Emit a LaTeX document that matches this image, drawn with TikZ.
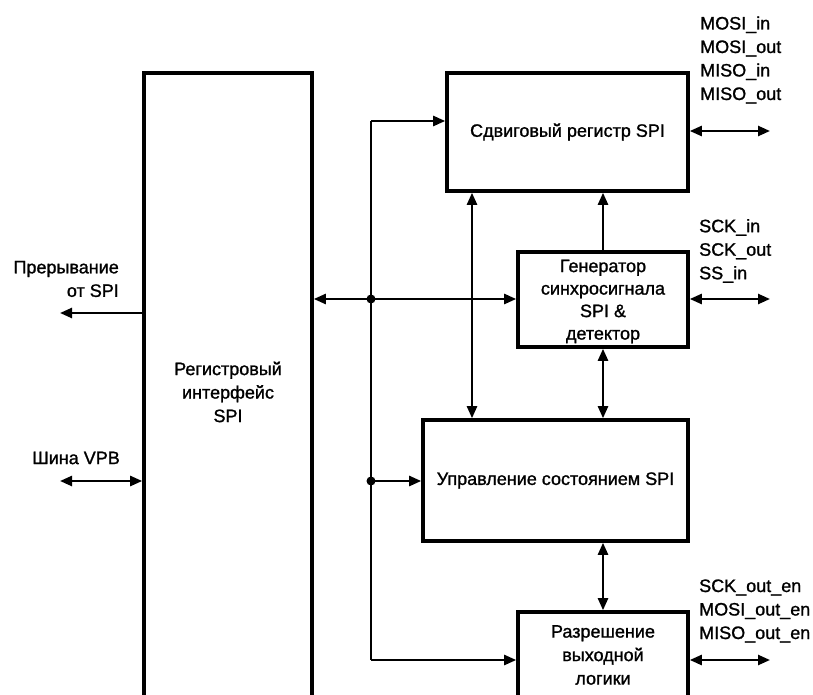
\documentclass[tikz,border=0pt]{standalone}
\usepackage{fontspec}
\setmainfont{Liberation Sans}[FakeBold=1.2]
\usetikzlibrary{arrows.meta}
\newcommand{\dgfont}{\fontsize{18}{23.5}\selectfont}
\newcommand{\dgfonttight}{\fontsize{18}{22.5}\selectfont}
\begin{document}
\begin{tikzpicture}[x=1pt,y=-1pt,
  >={Triangle[length=12pt,width=10pt]},
  box/.style={draw, line width=3.6pt, inner sep=0pt, align=center, font=\dgfont},
  lbl/.style={inner sep=0pt, font=\dgfont},
  conn/.style={line width=2.4pt},
  dot/.style={circle, fill, inner sep=0pt, minimum size=9pt}]
\useasboundingbox (0,0) rectangle (813,695);
\clip (0,0) rectangle (813,695);
% boxes
\node[box, minimum width=168, minimum height=638] (reg) at (228,392) {Регистровый\\интерфейс\\SPI};
\node[box, minimum width=241, minimum height=118] (sr) at (567.5,132) {Сдвиговый регистр SPI};
\node[box, minimum width=170, minimum height=95,
  label={[lbl, font=\dgfonttight, align=center, yshift=-2pt]center:Генератор\\синхросигнала\\SPI \&\\детектор}] (gen) at (603,299.5) {};
\node[box, minimum width=265, minimum height=121] (st) at (555.5,480.5) {Управление состоянием SPI};
\node[box, minimum width=170, minimum height=86] (ol) at (603,655) {Разрешение\\выходной\\логики};
% labels
\node[lbl, align=right, anchor=east] (lint) at (119,279) {Прерывание\\от SPI};
\node[lbl, anchor=east] (lvpb) at (120,458) {Шина VPB};
\node[lbl, align=left, anchor=west] (lmosi) at (700,60) {MOSI\_in\\MOSI\_out\\MISO\_in\\MISO\_out};
\node[lbl, align=left, anchor=west] (lsck) at (699,251) {SCK\_in\\SCK\_out\\SS\_in};
\node[lbl, align=left, anchor=west] (len) at (699,611) {SCK\_out\_en\\MOSI\_out\_en\\MISO\_out\_en};
% coordinates
\coordinate (pint) at (60,313);
\coordinate (pvpb) at (60,481);
\coordinate (bus) at (371,299);
\coordinate (btop) at (371,121);
\coordinate (bbot) at (371,660);
\coordinate (bst) at (371,481);
\coordinate (xa) at (472,0);
\coordinate (rsr) at (770,131);
\coordinate (rgen) at (770,299);
\coordinate (rol) at (770,660);
% left connectors
\draw[conn, ->] (reg.west |- pint) -- (pint);
\draw[conn, <->] (pvpb) -- (reg.west |- pvpb);
% main bus
\draw[conn, <->] (reg.east |- bus) -- (gen.west |- bus);
\draw[conn, ->] (btop) -- (sr.west |- btop);
\draw[conn] (btop) -- (bbot);
\draw[conn, ->] (bbot) -- (ol.west |- bbot);
\draw[conn, ->] (bst) -- (st.west |- bst);
\node[dot] (d1) at (bus) {};
\node[dot] (d2) at (bst) {};
% verticals
\draw[conn, <->] (sr.south -| xa) -- (st.north -| xa);
\draw[conn, ->] (gen.north) -- (gen.north |- sr.south);
\draw[conn, <->] (gen.south) -- (gen.south |- st.north);
\draw[conn, <->] (st.south -| ol.north) -- (ol.north);
% right connectors
\draw[conn, <->] (sr.east |- rsr) -- (rsr);
\draw[conn, <->] (gen.east |- rgen) -- (rgen);
\draw[conn, <->] (ol.east |- rol) -- (rol);
\end{tikzpicture}
\end{document}
